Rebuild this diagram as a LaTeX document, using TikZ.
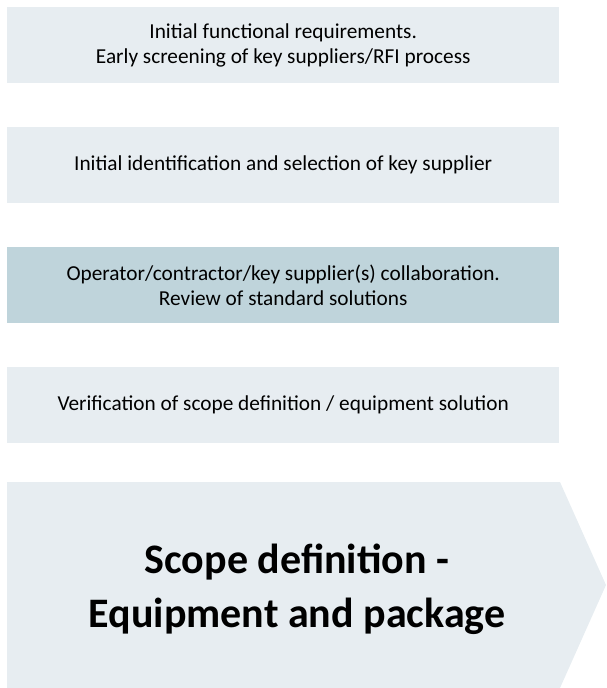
\documentclass[tikz,border=0pt]{standalone}
\usepackage{fontspec}
\setmainfont{Carlito}
\definecolor{lightbox}{RGB}{231,237,241}
\definecolor{darkbox}{RGB}{191,212,219}
\begin{document}
\begin{tikzpicture}[x=1pt,y=-1pt,
  stepbox/.style={fill=lightbox, draw=none, minimum width=552pt, minimum height=76pt,
    inner sep=0pt, anchor=north west, align=center,
    font=\fontsize{21.3}{25}\selectfont},
  titleline/.style={anchor=base, inner sep=0pt, font=\fontsize{42}{54}\selectfont\bfseries}]
\useasboundingbox (0,0) rectangle (606,688);
\node[stepbox] (s1) at (7,7) {Initial functional requirements.\\Early screening of key suppliers/RFI process};
\node[stepbox] (s2) at (7,127) {Initial identification and selection of key supplier};
\node[stepbox, fill=darkbox] (s3) at (7,247) {Operator/contractor/key supplier(s) collaboration.\\Review of standard solutions};
\node[stepbox] (s4) at (7,367) {Verification of scope definition / equipment solution};
\fill[lightbox] (7,482) -- (560,482) -- (606,585) -- (560,688) -- (7,688) -- cycle;
\node[titleline] (t1) at (297,573) {Scope definition -};
\node[titleline] (t2) at (297,627) {Equipment and package};
\end{tikzpicture}
\end{document}
